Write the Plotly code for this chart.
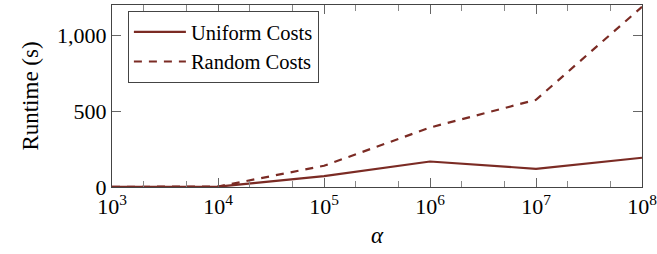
import plotly.graph_objects as go

alpha = [1e3, 1e4, 1e5, 1e6, 1e7, 1e8]
uniform = [1, 2, 72, 168, 120, 193]
random_costs = [1, 3, 140, 392, 575, 1188]
x_tickvals = [1e3, 1e4, 1e5, 1e6, 1e7, 1e8]
x_ticktext = ["10<sup>3</sup>", "10<sup>4</sup>", "10<sup>5</sup>", "10<sup>6</sup>", "10<sup>7</sup>", "10<sup>8</sup>"]
y_tickvals = [0, 500, 1000]
y_ticktext = ["0", "500", "1,000"]

color = "#7b2b24"
font = "Liberation Serif, Times New Roman, serif"

fig = go.Figure()
fig.add_trace(go.Scatter(x=alpha, y=uniform, mode="lines", name="Uniform Costs",
                         line=dict(color=color, width=2.2)))
fig.add_trace(go.Scatter(x=alpha, y=random_costs, mode="lines", name="Random Costs",
                         line=dict(color=color, width=2.2, dash="8px,7px")))

fig.update_layout(
    width=657, height=254,
    margin=dict(l=112, r=15, t=5, b=67),
    paper_bgcolor="white", plot_bgcolor="white",
    font=dict(family=font, size=22, color="black"),
    showlegend=True,
    legend=dict(x=0.03, y=0.967, xanchor="left", yanchor="top",
                bordercolor="#444", borderwidth=1, bgcolor="white",
                font=dict(size=20.5), tracegroupgap=0, itemwidth=52),
    xaxis=dict(type="log", range=[3, 8], tickvals=x_tickvals, ticktext=x_ticktext,
               ticks="inside", ticklen=9, tickcolor="#666", showgrid=False,
               showline=True, linecolor="#444", linewidth=1, mirror="ticks",
               zeroline=False, automargin=False, ticklabeloverflow="allow",
               tickfont=dict(size=22),
               minor=dict(ticks="inside", ticklen=6, tickcolor="#888", showgrid=False),
               title=dict(text="<i>α</i>", standoff=8, font=dict(size=23))),
    yaxis=dict(range=[0, 1200], tickvals=y_tickvals, ticktext=y_ticktext,
               ticks="inside", ticklen=9, tickcolor="#666", showgrid=False,
               showline=True, linecolor="#444", linewidth=1, mirror="ticks",
               zeroline=False, automargin=False, ticklabeloverflow="allow",
               tickfont=dict(size=22),
               title=dict(text="Runtime (s)", standoff=12, font=dict(size=23))),
)

fig.write_html("out.html", config={"displayModeBar": False},
               post_script="document.body.style.margin='0px';")
